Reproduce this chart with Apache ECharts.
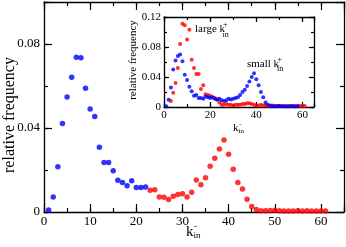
<!DOCTYPE html>
<html><head><meta charset="utf-8">
<script src="https://cdn.jsdelivr.net/npm/echarts@6/dist/echarts.min.js"></script>
<style>html,body{margin:0;padding:0;background:#fff}#c{width:346px;height:247px}</style>
</head><body><div id="c"></div>
<script>
// ---- data (relative frequency vs k_in^-) ----
const mainBlueStartK = 1;
const mainBlue = [0.0010, 0.0072, 0.0215, 0.0422, 0.0548, 0.0642, 0.0737, 0.0734, 0.0589, 0.0491,
  0.0455, 0.0308, 0.0236, 0.0236, 0.0196, 0.0151, 0.0140, 0.0125, 0.0149, 0.0117, 0.0117, 0.0119];
const mainRedStartK = 23;
const mainRed = [0.0103, 0.0106, 0.0072, 0.0070, 0.0059, 0.0075, 0.0083, 0.0087, 0.0072, 0.0094,
  0.0152, 0.0130, 0.0163, 0.0218, 0.0256, 0.0300, 0.0343, 0.0275, 0.0204, 0.0141,
  0.0110, 0.0061, 0.0026, 0.0012, 0.0006, 0.0006, 0.0007, 0.0008, 0.0006, 0.0005,
  0.0005, 0.0005, 0.0006, 0.0005, 0.0006, 0.0005, 0.0005, 0.0005, 0.0005];
const insetBlueStartK = 1;
const insetBlue = [0.001, 0.0098, 0.026, 0.050, 0.062, 0.068, 0.070, 0.061, 0.043, 0.036,
  0.027, 0.021, 0.015, 0.016, 0.012, 0.012, 0.011, 0.014, 0.013, 0.012,
  0.013, 0.011, 0.010, 0.011, 0.009, 0.008, 0.009, 0.011, 0.010, 0.011,
  0.012, 0.013, 0.016, 0.020, 0.023, 0.028, 0.034, 0.040, 0.045, 0.037,
  0.029, 0.020, 0.013, 0.006, 0.003, 0.002, 0.001, 0.001, 0.001, 0.0012,
  0.001, 0.001, 0.0008, 0.001, 0.001, 0.001, 0.0008, 0.001];
const insetRedStartK = 3;
const insetRed = [0.008, 0.019, 0.032, 0.052, 0.084, 0.111, 0.109, 0.090, 0.103, 0.063,
  0.052, 0.044, 0.044, 0.024, 0.029, 0.017, 0.016, 0.015, 0.013, 0.012,
  0.010, 0.006, 0.003, 0.003, 0.004, 0.003, 0.003, 0.002, 0.003, 0.003,
  0.003, 0.004, 0.004, 0.005, 0.005, 0.004, 0.003, 0.002, 0.002, 0.003,
  0.002, 0.002, 0.0015, 0.0015, 0.002, 0.0015, 0.0015, 0.0015, 0.001, 0.0015,
  0.0015, 0.001, 0.0015, 0.0015, 0.0015, 0.0015, 0.0015, 0.0015, 0.0015];

const FONT = "'Liberation Serif','Times New Roman',serif";
function pairs(startK, vals) { return vals.map((v, i) => [startK + i, v]); }

// plot areas
const plots = [
  { L: 44, T: 2, W: 300, H: 210, x: [0, 65, 10, 5], y: [0, 0.1, 0.04, 0.02], maj: 8, mnr: 4, fs: 13, mx: 3, my: 4, showMaxY: false },
  { L: 164, T: 17, W: 150, H: 90, x: [0, 65, 20, 10], y: [0, 0.12, 0.04, 0.02], maj: 5, mnr: 3, fs: 11, mx: 3, my: 3, showMaxY: true }
];

const grids = [], xAxes = [], yAxes = [];
const LINE = { color: '#000', width: 1.3 };
// frame axes with labels (x index = 2*p, 2*p+1 ; y likewise)
plots.forEach((p, gi) => {
  grids.push({ left: p.L, top: p.T, width: p.W, height: p.H, outerBoundsMode: 'none' });
  ['bottom', 'top'].forEach((pos, si) => xAxes.push({
    type: 'value', gridIndex: gi, position: pos, min: p.x[0], max: p.x[1], interval: p.x[2],
    axisLine: { show: true, onZero: false, lineStyle: LINE }, axisTick: { show: false },
    axisLabel: { show: si === 0, fontFamily: FONT, fontSize: p.fs, color: '#000', margin: p.mx, showMaxLabel: false },
    splitLine: { show: false } }));
  ['left', 'right'].forEach((pos, si) => yAxes.push({
    type: 'value', gridIndex: gi, position: pos, min: p.y[0], max: p.y[1], interval: p.y[2],
    axisLine: { show: true, onZero: false, lineStyle: LINE }, axisTick: { show: false },
    axisLabel: { show: si === 0, fontFamily: FONT, fontSize: p.fs, color: '#000', margin: p.my, showMaxLabel: p.showMaxY },
    splitLine: { show: false } }));
});

// inward ticks: thin strip grids whose split lines are the ticks
function hidden(g) { return { type: 'value', gridIndex: g, show: false, min: 0, max: 1 }; }
function tickAxis(g, rng, iv) {
  return { type: 'value', gridIndex: g, min: rng[0], max: rng[1], interval: iv,
    axisLine: { show: false }, axisTick: { show: false }, axisLabel: { show: false },
    splitLine: { show: true, lineStyle: { color: '#000', width: 1.2 } } };
}
plots.forEach(p => {
  [[p.maj, p.x[2], p.y[2]], [p.mnr, p.x[3], p.y[3]]].forEach(([len, ivx, ivy]) => {
    // bottom and top strips (vertical ticks)
    [p.T + p.H - len, p.T].forEach(top => {
      const g = grids.length;
      grids.push({ left: p.L, top: top, width: p.W, height: len, outerBoundsMode: 'none' });
      xAxes.push(tickAxis(g, p.x, ivx)); yAxes.push(hidden(g));
    });
    // left and right strips (horizontal ticks)
    [p.L, p.L + p.W - len].forEach(left => {
      const g = grids.length;
      grids.push({ left: left, top: p.T, width: len, height: p.H, outerBoundsMode: 'none' });
      yAxes.push(tickAxis(g, p.y, ivy)); xAxes.push(hidden(g));
    });
  });
});

function txt(x, y, text, size, rot) {
  const el = { type: 'text', x: x, y: y, silent: true,
    style: { text: text, fontFamily: FONT, fontSize: size, fill: '#000', verticalAlign: 'middle', align: rot ? 'center' : 'left' } };
  if (rot) el.rotation = Math.PI / 2;
  return el;
}

const chart = echarts.init(document.getElementById('c'));
chart.setOption({
  animation: false,
  grid: grids,
  xAxis: xAxes,
  yAxis: yAxes,
  series: [
    { type: 'scatter', xAxisIndex: 0, yAxisIndex: 0, data: pairs(mainBlueStartK, mainBlue), symbolSize: 5.5, itemStyle: { color: '#0000ff' } },
    { type: 'scatter', xAxisIndex: 0, yAxisIndex: 0, data: pairs(mainRedStartK, mainRed), symbolSize: 5.5, itemStyle: { color: '#ff0000' } },
    { type: 'scatter', xAxisIndex: 2, yAxisIndex: 2, data: pairs(insetRedStartK, insetRed), symbolSize: 4, itemStyle: { color: '#ff0000' } },
    { type: 'scatter', xAxisIndex: 2, yAxisIndex: 2, data: pairs(insetBlueStartK, insetBlue), symbolSize: 4, itemStyle: { color: '#0000ff' } }
  ],
  graphic: [
    txt(9.5, 115, 'relative frequency', 16, true),
    txt(186, 232.5, 'k', 15),
    txt(194, 226.5, '-', 9),
    txt(193.5, 235.5, 'in', 9),
    txt(133, 60, 'relative frequency', 11, true),
    txt(233, 128.5, 'k', 11),
    txt(239, 124, '-', 7),
    txt(238.5, 131.5, 'in', 7),
    txt(195, 29.5, 'large k', 11),
    txt(223, 25, '+', 8),
    txt(222.5, 34.5, 'in', 8),
    txt(247, 64, 'small k', 11),
    txt(277.5, 59.5, '+', 8),
    txt(277, 69, 'in', 8)
  ]
});
</script></body></html>
